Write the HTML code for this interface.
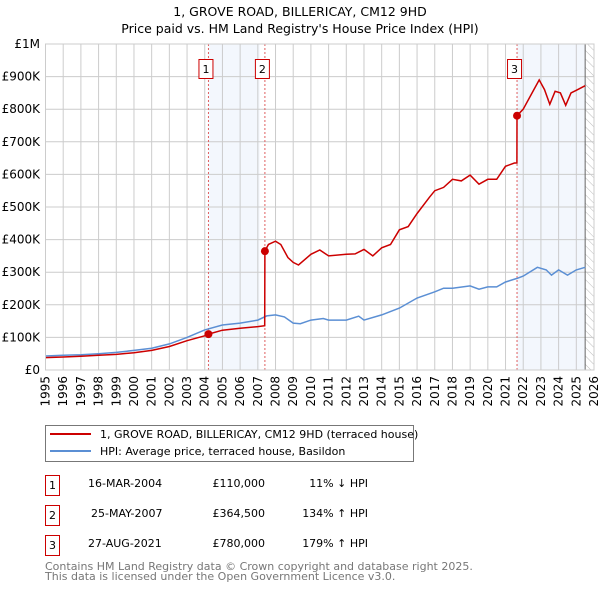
<!DOCTYPE html>
<html><head><meta charset="utf-8"><style>
body{margin:0;background:#fff;width:600px;height:590px;overflow:hidden;font-family:"DejaVu Sans","Liberation Sans",sans-serif}
svg text{font-family:"DejaVu Sans","Liberation Sans",sans-serif}
</style></head><body>
<svg id="c" width="600" height="590" xmlns="http://www.w3.org/2000/svg">
<defs><pattern id="hatch" width="6" height="6" patternUnits="userSpaceOnUse" patternTransform="rotate(-45)"><line x1="0" y1="0" x2="0" y2="6" stroke="#bbb" stroke-width="1"/></pattern></defs>
<text x="300" y="16" text-anchor="middle" font-size="12.5">1, GROVE ROAD, BILLERICAY, CM12 9HD</text>
<text x="300" y="33" text-anchor="middle" font-size="12.5">Price paid vs. HM Land Registry's House Price Index (HPI)</text>
<g id="plot"></g>
<g>
<rect x="45.5" y="425.5" width="368" height="36" fill="#fff" stroke="#777"/>
<line x1="50" y1="434" x2="91" y2="434" stroke="#cc0000" stroke-width="2"/>
<text x="100" y="438" font-size="11">1, GROVE ROAD, BILLERICAY, CM12 9HD (terraced house)</text>
<line x1="50" y1="451" x2="91" y2="451" stroke="#5b8fd4" stroke-width="2"/>
<text x="100" y="455" font-size="11">HPI: Average price, terraced house, Basildon</text>
</g>
<g font-size="11">
<rect x="45.5" y="475.5" width="14" height="20" fill="none" stroke="#cc0000"/><text x="52.5" y="489" text-anchor="middle">1</text>
<text x="88" y="487">16-MAR-2004</text><text x="265" y="487" text-anchor="end">£110,000</text><text x="368" y="487" text-anchor="end">11% ↓ HPI</text>
<rect x="45.5" y="505.5" width="14" height="20" fill="none" stroke="#cc0000"/><text x="52.5" y="519" text-anchor="middle">2</text>
<text x="91" y="517">25-MAY-2007</text><text x="265" y="517" text-anchor="end">£364,500</text><text x="368" y="517" text-anchor="end">134% ↑ HPI</text>
<rect x="45.5" y="535.5" width="14" height="20" fill="none" stroke="#cc0000"/><text x="52.5" y="549" text-anchor="middle">3</text>
<text x="88" y="547">27-AUG-2021</text><text x="265" y="547" text-anchor="end">£780,000</text><text x="368" y="547" text-anchor="end">179% ↑ HPI</text>
</g>
<text x="45" y="570" font-size="11" fill="#777">Contains HM Land Registry data © Crown copyright and database right 2025.</text>
<text x="45" y="580" font-size="11" fill="#777">This data is licensed under the Open Government Licence v3.0.</text>
</svg>
<script>
const hpiYears=[1995,1996,1997,1998,1999,2000,2001,2002,2003,2004,2005,2006,2007,2007.5,2008,2008.5,2009,2009.4,2010,2010.7,2011,2012,2012.7,2013,2014,2015,2016,2017,2017.5,2018,2019,2019.5,2020,2020.5,2021,2021.65,2022,2022.8,2023.3,2023.6,2024,2024.5,2025,2025.5];
const hpiValues=[43,45,47,50,54,60,67,80,100,123,138,144,153,166,169,163,144,142,153,158,153,153,165,153,169,190,221,240,251,251,258,248,255,255,270,281,288,315,307,291,307,291,307,315];
const redYears=[1995,1996,1997,1998,1999,2000,2001,2002,2003,2004,2004.21,2005,2006,2007,2007.39,2007.4,2007.6,2008,2008.3,2008.7,2009,2009.3,2010,2010.5,2011,2012,2012.5,2013,2013.5,2014,2014.5,2015,2015.5,2016,2016.7,2017,2017.5,2018,2018.5,2019,2019.5,2020,2020.5,2021,2021.5,2021.64,2021.65,2022,2022.5,2022.9,2023.2,2023.5,2023.8,2024.1,2024.4,2024.7,2025,2025.5];
const redValues=[38,40,42,45,48,53,60,72,90,105,110,122,128,133,136,364.5,385,395,385,345,330,322,355,368,350,355,356,370,350,375,385,430,440,480,530,550,560,585,580,598,570,585,585,625,635,635,780,800,850,890,860,815,855,850,812,850,858,872];
const sales=[{n:"1",t:2004.21,v:110},{n:"2",t:2007.4,v:364.5},{n:"3",t:2021.65,v:780}];
const yTicks=[0,100,200,300,400,500,600,700,800,900,1000];
const yTickLabels=["£0","£100K","£200K","£300K","£400K","£500K","£600K","£700K","£800K","£900K","£1M"];
const xTicks=[1995,1996,1997,1998,1999,2000,2001,2002,2003,2004,2005,2006,2007,2008,2009,2010,2011,2012,2013,2014,2015,2016,2017,2018,2019,2020,2021,2022,2023,2024,2025,2026];
const L=45.5,R=594,T=44,B=370;
const X=t=>L+(t-1995)*(R-L)/31, Y=v=>B-v*(B-T)/1000;
const NS="http://www.w3.org/2000/svg", g=document.getElementById('plot');
function mk(tag,a,parent){const e=document.createElementNS(NS,tag);for(const k in a)e.setAttribute(k,a[k]);(parent||g).appendChild(e);return e;}
let e;
e=mk('rect',{x:X(2004.21),y:T,width:X(2007.1)-X(2004.21),height:B-T,fill:'#eef3fc',opacity:0.7});


e=mk('rect',{x:X(2021.65),y:T,width:X(2025.5)-X(2021.65),height:B-T,fill:'#eef3fc',opacity:0.7});


e=mk('rect',{x:X(2025.5),y:T,width:R-X(2025.5),height:B-T,fill:'url(#hatch)'});


yTicks.forEach((v,i)=>{
 e=mk('line',{x1:L,x2:R,y1:Y(v),y2:Y(v),stroke:'#ccc'});
 
 
 e=mk('text',{x:40,y:Y(v)+4,'text-anchor':'end','font-size':12});
 
 
 e.textContent=yTickLabels[i];
});
xTicks.forEach(t=>{
 e=mk('line',{x1:X(t),x2:X(t),y1:T,y2:B,stroke:'#ccc'});
 
 
 e=mk('text',{x:0,y:0,'text-anchor':'end','font-size':12,transform:`translate(${X(t)+4},${B+6}) rotate(-90)`});
 
 
 e.textContent=t;
});
e=mk('line',{x1:X(2025.5),x2:X(2025.5),y1:T,y2:B,stroke:'#666'});


sales.forEach(s=>{
 e=mk('line',{x1:X(s.t),x2:X(s.t),y1:T,y2:B,stroke:'#e06060','stroke-dasharray':'2,2'});
 
 
});
const pts=(xs,vs)=>xs.map((t,i)=>X(t).toFixed(1)+','+Y(vs[i]).toFixed(1)).join(' ');
e=mk('polyline',{points:pts(hpiYears,hpiValues),fill:'none',stroke:'#5b8fd4','stroke-width':1.5});


e=mk('polyline',{points:pts(redYears,redValues),fill:'none',stroke:'#cc0000','stroke-width':1.5});


sales.forEach(s=>{
 e=mk('circle',{cx:X(s.t),cy:Y(s.v),r:4,fill:'#cc0000'});
 
 
 e=mk('rect',{x:X(s.t)-9.5,y:59.5,width:14,height:19,fill:'#fff',stroke:'#cc0000'});
 
 
 e=mk('text',{x:X(s.t)-2.5,y:73,'text-anchor':'middle','font-size':11});
 
 
 e.textContent=s.n;
});
e=mk('rect',{x:L,y:T,width:R-L,height:B-T,fill:'none',stroke:'#ccc'});


</script>
</body></html>
